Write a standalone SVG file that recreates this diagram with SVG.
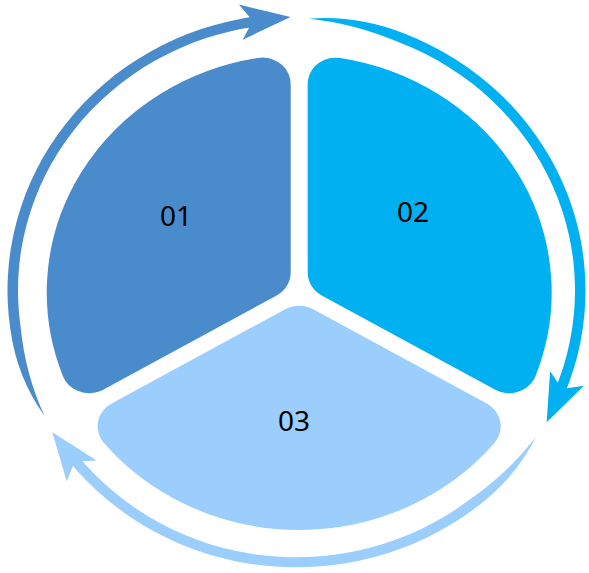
<svg xmlns="http://www.w3.org/2000/svg" xmlns:xlink="http://www.w3.org/1999/xlink" width="589" height="573" viewBox="0 0 589 573">
  <style>
    .lbl { font-family: "Noto Sans", "Open Sans", "Liberation Sans", sans-serif; font-size: 28px; fill: #000000; text-anchor: middle; }
    .seg { stroke-width: 56; stroke-linejoin: round; }
  </style>
  <defs>
    <path id="sector" d="M -36.5 -21.07 L -36.5 -221.5 A 224.5 224.5 0 0 0 -210.05 79.14 Z"/>
    <g id="arrow">
      <path d="M -251.9 131.1 Q -279.61 90.85 -286.19 40.22 A 289 289 0 0 1 -40.22 -286.19 L -38.76 -275.79 A 278.5 278.5 0 0 0 -275.79 38.76 Q -271.05 88.07 -251.9 131.1 Z"/>
      <polygon points="-5.98,-285.4 -57.64,-298.6 -43.78,-281.45 -53.78,-261.8"/>
    </g>
  </defs>
  <g id="connectors" transform="translate(296.5 290.5) scale(1 0.958)">
    <use id="arrow-1" xlink:href="#arrow" href="#arrow" fill="#4A8BCB"/>
    <use id="arrow-2" xlink:href="#arrow" href="#arrow" fill="#00B0F0" transform="rotate(120)"/>
    <use id="arrow-3" xlink:href="#arrow" href="#arrow" fill="#9BCDFD" transform="rotate(240)"/>
  </g>
  <g id="node-01">
    <use class="seg" xlink:href="#sector" href="#sector" fill="#4A8BCB" stroke="#4A8BCB" transform="translate(299.2 292.4) scale(1 0.941)"/>
    <text class="lbl" x="176" y="226">01</text>
  </g>
  <g id="node-02">
    <use class="seg" xlink:href="#sector" href="#sector" fill="#00B0F0" stroke="#00B0F0" transform="translate(299.2 292.4) scale(1 0.941) rotate(120)"/>
    <text class="lbl" x="413" y="222">02</text>
  </g>
  <g id="node-03">
    <use class="seg" xlink:href="#sector" href="#sector" fill="#9BCDFD" stroke="#9BCDFD" transform="translate(299.2 292.4) scale(1 0.941) rotate(240)"/>
    <text class="lbl" x="294" y="431">03</text>
  </g>
</svg>
